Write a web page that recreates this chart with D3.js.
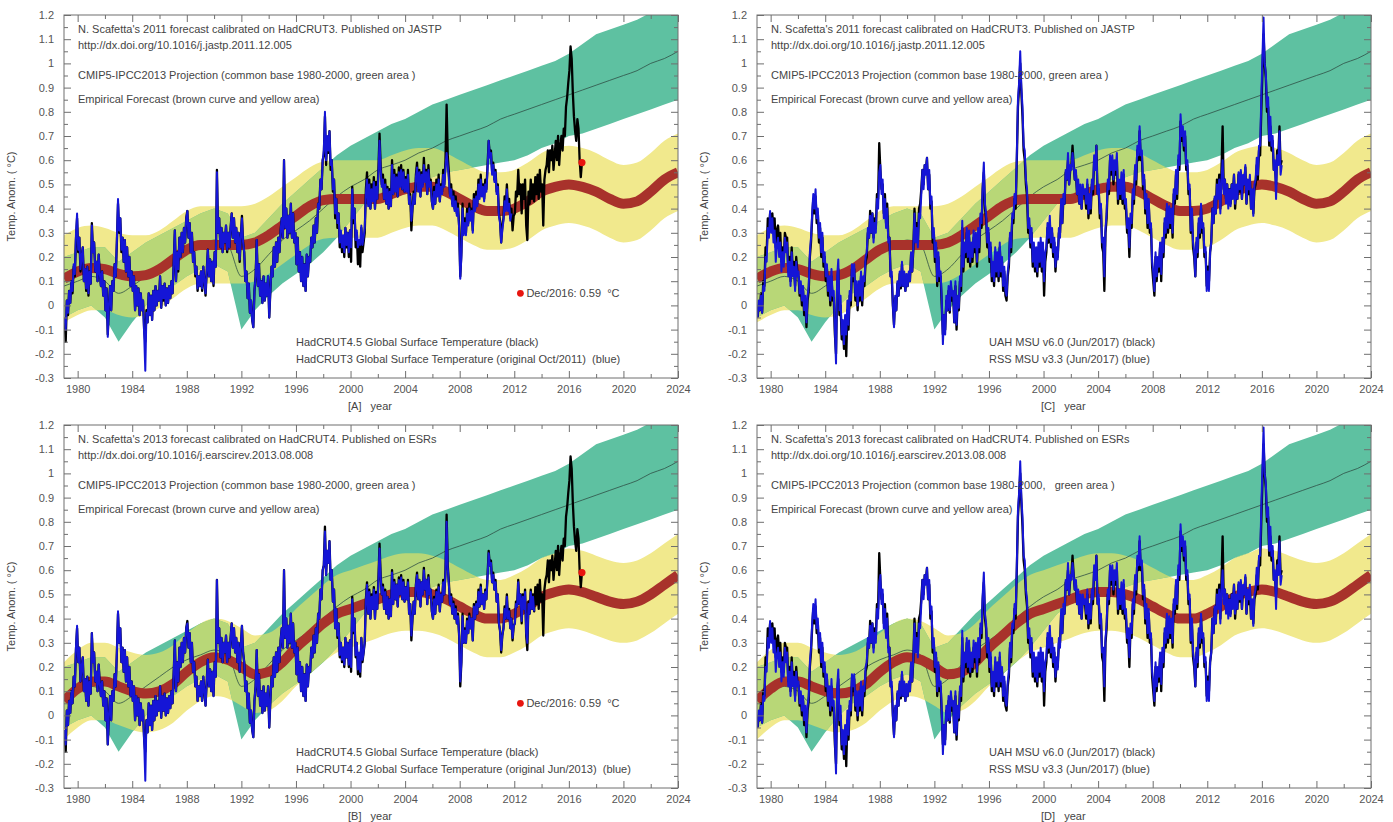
<!DOCTYPE html>
<html>
<head>
<meta charset="utf-8">
<script src="https://cdn.jsdelivr.net/npm/d3@7"></script>
<style>
  body { margin: 0; background: #fff; }
  svg { display: block; }
  text { font-family: "Liberation Sans", Arial, sans-serif; white-space: pre; }
</style>
</head>
<body>
<svg id="chart" width="1393" height="822"></svg>
<script>
// ---------------- data ----------------
// yearly knots of the projection bands
const knotYears = d3.range(1979, 2025);

// CMIP5-IPCC2013 ensemble (common base 1980-2000)
const cmipLow  = [-0.05,-0.02,0.00,-0.05,-0.15,-0.07,0.00,0.05,0.08,0.12, 0.15,0.17,0.14,-0.10,-0.02,0.04,0.09,0.13,0.17,0.22, 0.28,0.35,0.42,0.46,0.48,0.50,0.52,0.53,0.55,0.56, 0.57,0.58,0.59,0.60,0.62,0.65,0.67,0.70,0.71,0.73, 0.75,0.77,0.79,0.81,0.83,0.85];
const cmipMean = [0.08,0.10,0.12,0.10,0.05,0.08,0.12,0.16,0.20,0.23, 0.25,0.27,0.25,0.12,0.15,0.21,0.27,0.31,0.35,0.40, 0.45,0.49,0.52,0.56,0.58,0.60,0.63,0.65,0.68,0.70, 0.72,0.74,0.77,0.79,0.81,0.83,0.85,0.87,0.89,0.91, 0.93,0.95,0.97,1.00,1.02,1.05];
const cmipHigh = [0.20,0.22,0.24,0.24,0.18,0.22,0.26,0.29,0.32,0.35, 0.38,0.40,0.38,0.28,0.30,0.36,0.42,0.47,0.52,0.57, 0.62,0.66,0.69,0.72,0.75,0.77,0.80,0.83,0.85,0.87, 0.89,0.91,0.93,0.95,0.97,0.99,1.01,1.04,1.08,1.12, 1.14,1.16,1.18,1.21,1.23,1.25];

// empirical forecast 2011 (calibrated on HadCRUT3)
const fc2011Mid  = [0.11,0.14,0.155,0.15,0.13,0.12,0.125,0.15,0.19,0.23, 0.25,0.25,0.25,0.25,0.26,0.29,0.33,0.37,0.41,0.435, 0.44,0.44,0.44,0.44,0.46,0.48,0.49,0.49,0.47,0.44, 0.41,0.39,0.39,0.40,0.43,0.47,0.49,0.50,0.49,0.47, 0.44,0.42,0.43,0.47,0.52,0.55];
const fc2011High = [0.29,0.32,0.33,0.32,0.30,0.29,0.29,0.31,0.35,0.39, 0.41,0.41,0.41,0.41,0.42,0.45,0.49,0.53,0.57,0.595, 0.60,0.60,0.60,0.60,0.62,0.64,0.65,0.65,0.63,0.60, 0.57,0.55,0.55,0.56,0.59,0.63,0.65,0.66,0.65,0.63, 0.60,0.58,0.59,0.63,0.68,0.71];
const fc2011Low  = [-0.07,-0.04,-0.02,-0.02,-0.04,-0.05,-0.04,-0.01,0.03,0.07, 0.09,0.09,0.09,0.09,0.10,0.13,0.17,0.21,0.25,0.275, 0.28,0.28,0.28,0.28,0.30,0.32,0.33,0.33,0.31,0.28, 0.25,0.23,0.23,0.24,0.27,0.31,0.33,0.34,0.33,0.31, 0.28,0.26,0.27,0.31,0.36,0.39];

// empirical forecast 2013 (calibrated on HadCRUT4)
const fc2013Mid  = [0.06,0.11,0.14,0.14,0.12,0.10,0.09,0.10,0.13,0.18, 0.22,0.24,0.23,0.20,0.17,0.18,0.22,0.28,0.33,0.38, 0.42,0.44,0.46,0.48,0.50,0.51,0.51,0.50,0.48,0.45, 0.42,0.40,0.40,0.42,0.45,0.49,0.51,0.52,0.51,0.49, 0.47,0.46,0.47,0.50,0.54,0.58];
const fc2013High = [0.22,0.27,0.30,0.30,0.28,0.26,0.25,0.26,0.29,0.34, 0.38,0.40,0.39,0.36,0.33,0.34,0.38,0.44,0.49,0.54, 0.58,0.60,0.62,0.64,0.66,0.67,0.67,0.66,0.64,0.61, 0.58,0.56,0.56,0.58,0.61,0.65,0.67,0.69,0.68,0.66, 0.64,0.63,0.64,0.67,0.71,0.75];
const fc2013Low  = [-0.10,-0.05,-0.02,-0.02,-0.04,-0.06,-0.07,-0.06,-0.03,0.02, 0.06,0.08,0.07,0.04,0.01,0.02,0.06,0.12,0.17,0.22, 0.26,0.28,0.30,0.32,0.34,0.35,0.35,0.34,0.32,0.29, 0.26,0.24,0.24,0.26,0.29,0.33,0.35,0.36,0.35,0.33, 0.31,0.30,0.31,0.34,0.38,0.42];

// monthly anomalies (degC), all starting January 1979
const hadcrut45 = [
 -0.06,-0.15,0.02,-0.04,0.06,0.01,0.10,0.05,0.16,0.12,0.27,0.36,
 0.22,0.28,0.14,0.20,0.24,0.10,0.15,0.06,0.16,0.04,0.14,0.09,
 0.34,0.22,0.26,0.14,0.18,0.10,0.21,0.13,0.08,0.14,0.04,0.10,
 -0.02,0.07,-0.12,0.00,0.08,-0.02,0.10,0.06,0.17,0.12,0.26,0.42,
 0.30,0.36,0.22,0.28,0.18,0.27,0.14,0.24,0.12,0.20,0.08,0.14,
 0.06,0.12,-0.02,0.08,0.00,0.07,-0.04,0.05,-0.02,0.02,-0.10,-0.15,
 -0.02,-0.07,0.05,-0.04,0.04,-0.06,0.06,-0.02,0.08,0.00,0.06,0.02,
 0.12,-0.01,0.08,0.02,0.09,0.00,0.07,0.01,0.08,0.03,0.10,0.05,
 0.18,0.31,0.10,0.22,0.14,0.28,0.20,0.30,0.22,0.32,0.26,0.36,
 0.39,0.28,0.34,0.22,0.30,0.18,0.22,0.12,0.16,0.06,0.12,0.08,
 0.14,0.06,0.16,0.10,0.04,0.14,0.23,0.12,0.19,0.10,0.18,0.08,
 0.22,0.16,0.56,0.30,0.36,0.24,0.32,0.22,0.30,0.26,0.33,0.22,
 0.30,0.24,0.32,0.38,0.28,0.36,0.26,0.32,0.22,0.30,0.18,0.28,
 0.37,0.26,0.22,0.10,0.14,0.03,0.09,-0.03,0.02,-0.06,-0.09,0.06,
 0.12,0.27,0.08,0.17,0.04,0.10,0.01,0.12,0.02,0.09,0.04,0.12,
 -0.05,0.06,0.16,0.12,0.24,0.16,0.26,0.18,0.28,0.22,0.31,0.36,
 0.28,0.60,0.32,0.40,0.28,0.37,0.30,0.42,0.28,0.38,0.26,0.30,
 0.17,0.28,0.14,0.22,0.10,0.20,0.08,0.17,0.06,0.21,0.12,0.20,
 0.18,0.28,0.24,0.33,0.26,0.36,0.30,0.42,0.40,0.52,0.48,0.60,
 0.62,0.78,0.58,0.68,0.63,0.72,0.56,0.60,0.47,0.52,0.36,0.44,
 0.32,0.38,0.24,0.30,0.22,0.28,0.20,0.32,0.24,0.30,0.20,0.31,
 0.18,0.49,0.34,0.40,0.24,0.30,0.17,0.25,0.16,0.32,0.22,0.26,
 0.30,0.48,0.55,0.42,0.52,0.40,0.50,0.44,0.53,0.40,0.51,0.44,
 0.56,0.71,0.58,0.50,0.54,0.44,0.52,0.42,0.49,0.40,0.48,0.41,
 0.60,0.46,0.56,0.48,0.54,0.45,0.57,0.50,0.58,0.48,0.56,0.47,
 0.53,0.48,0.56,0.42,0.46,0.31,0.40,0.47,0.42,0.54,0.59,0.48,
 0.56,0.45,0.55,0.50,0.61,0.52,0.56,0.46,0.58,0.50,0.52,0.43,
 0.40,0.49,0.42,0.52,0.46,0.54,0.43,0.50,0.47,0.56,0.50,0.60,
 0.83,0.62,0.55,0.46,0.50,0.42,0.47,0.40,0.45,0.38,0.42,0.33,
 0.12,0.22,0.42,0.30,0.36,0.30,0.40,0.34,0.42,0.36,0.40,0.31,
 0.46,0.40,0.47,0.42,0.52,0.45,0.54,0.46,0.50,0.44,0.52,0.48,
 0.58,0.68,0.62,0.64,0.55,0.59,0.52,0.56,0.47,0.50,0.38,0.35,
 0.26,0.33,0.36,0.45,0.40,0.50,0.40,0.44,0.36,0.40,0.31,0.37,
 0.38,0.47,0.45,0.56,0.46,0.50,0.38,0.50,0.44,0.52,0.33,0.27,
 0.47,0.42,0.52,0.44,0.50,0.43,0.53,0.46,0.54,0.44,0.56,0.47,
 0.50,0.33,0.52,0.56,0.58,0.64,0.55,0.64,0.60,0.66,0.56,0.62,
 0.68,0.60,0.70,0.58,0.66,0.70,0.64,0.73,0.70,0.82,0.86,0.92,
 0.97,1.07,1.02,0.88,0.78,0.72,0.68,0.77,0.73,0.60,0.53,0.59
];

const hadcrut3 = [
 -0.05,-0.10,0.02,-0.03,0.06,0.01,0.10,0.06,0.17,0.13,0.29,0.38,
 0.23,0.28,0.15,0.20,0.24,0.10,0.15,0.07,0.16,0.05,0.14,0.09,
 0.33,0.22,0.26,0.14,0.18,0.10,0.21,0.13,0.08,0.14,0.04,0.10,
 -0.02,0.07,-0.13,0.00,0.08,-0.02,0.10,0.06,0.17,0.12,0.27,0.44,
 0.31,0.36,0.23,0.28,0.18,0.27,0.14,0.24,0.12,0.20,0.08,0.14,
 0.06,0.12,-0.02,0.08,0.00,0.07,-0.04,0.05,-0.02,0.02,-0.12,-0.27,
 -0.03,-0.07,0.05,-0.04,0.04,-0.06,0.06,-0.02,0.08,0.00,0.06,0.02,
 0.12,-0.01,0.08,0.03,0.09,0.00,0.07,0.01,0.08,0.03,0.10,0.05,
 0.18,0.31,0.10,0.22,0.15,0.28,0.20,0.30,0.22,0.32,0.26,0.36,
 0.39,0.28,0.34,0.22,0.30,0.18,0.22,0.13,0.16,0.07,0.12,0.08,
 0.14,0.07,0.16,0.10,0.05,0.14,0.23,0.12,0.19,0.10,0.18,0.09,
 0.22,0.16,0.55,0.30,0.36,0.24,0.32,0.22,0.30,0.26,0.33,0.23,
 0.30,0.24,0.32,0.38,0.28,0.36,0.26,0.32,0.22,0.30,0.19,0.28,
 0.36,0.26,0.22,0.10,0.14,0.03,0.09,-0.03,0.02,-0.06,-0.09,0.06,
 0.12,0.27,0.08,0.17,0.04,0.10,0.01,0.12,0.02,0.09,0.04,0.12,
 -0.05,0.06,0.16,0.12,0.24,0.16,0.26,0.18,0.28,0.22,0.31,0.36,
 0.28,0.60,0.32,0.40,0.28,0.37,0.30,0.42,0.28,0.38,0.26,0.30,
 0.17,0.28,0.14,0.22,0.10,0.20,0.08,0.17,0.06,0.21,0.12,0.20,
 0.18,0.28,0.24,0.33,0.26,0.36,0.30,0.42,0.40,0.52,0.48,0.60,
 0.64,0.80,0.60,0.70,0.64,0.72,0.58,0.60,0.48,0.52,0.38,0.44,
 0.34,0.38,0.26,0.31,0.24,0.29,0.22,0.32,0.25,0.30,0.22,0.31,
 0.24,0.48,0.36,0.40,0.27,0.31,0.24,0.27,0.25,0.33,0.25,0.28,
 0.32,0.46,0.52,0.41,0.50,0.40,0.48,0.43,0.51,0.40,0.49,0.44,
 0.54,0.68,0.56,0.49,0.52,0.44,0.50,0.42,0.48,0.40,0.47,0.41,
 0.58,0.46,0.54,0.47,0.53,0.45,0.55,0.49,0.56,0.48,0.55,0.47,
 0.52,0.47,0.54,0.42,0.45,0.35,0.40,0.46,0.42,0.53,0.57,0.47,
 0.55,0.45,0.54,0.49,0.58,0.51,0.55,0.46,0.56,0.49,0.51,0.43,
 0.40,0.47,0.42,0.50,0.45,0.52,0.43,0.49,0.46,0.54,0.49,0.57,
 0.63,0.58,0.52,0.45,0.48,0.41,0.45,0.39,0.43,0.37,0.40,0.32,
 0.11,0.20,0.40,0.29,0.34,0.29,0.38,0.33,0.40,0.35,0.39,0.30,
 0.44,0.39,0.45,0.41,0.50,0.44,0.52,0.45,0.49,0.43,0.50,0.47,
 0.56,0.68,0.61,0.63,0.54,0.58,0.51,0.55,0.46,0.49,0.37,0.34,
 0.26,0.31,0.35,0.43,0.39,0.48,0.39,0.42,0.35,0.38
];

const hadcrut42 = [
 -0.06,-0.12,0.02,-0.04,0.06,0.01,0.10,0.05,0.16,0.12,0.28,0.37,
 0.22,0.28,0.14,0.20,0.24,0.10,0.15,0.06,0.16,0.04,0.14,0.09,
 0.34,0.22,0.26,0.14,0.18,0.10,0.21,0.13,0.08,0.14,0.04,0.10,
 -0.02,0.07,-0.12,0.00,0.08,-0.02,0.10,0.06,0.17,0.12,0.26,0.43,
 0.30,0.36,0.22,0.28,0.18,0.27,0.14,0.24,0.12,0.20,0.08,0.14,
 0.06,0.12,-0.02,0.08,0.00,0.07,-0.04,0.05,-0.02,0.02,-0.11,-0.27,
 -0.02,-0.07,0.05,-0.04,0.04,-0.06,0.06,-0.02,0.08,0.00,0.06,0.02,
 0.12,-0.01,0.08,0.02,0.09,0.00,0.07,0.01,0.08,0.03,0.10,0.05,
 0.18,0.31,0.10,0.22,0.14,0.28,0.20,0.30,0.22,0.32,0.26,0.36,
 0.38,0.28,0.34,0.22,0.30,0.18,0.22,0.12,0.16,0.06,0.12,0.08,
 0.14,0.06,0.16,0.10,0.04,0.14,0.23,0.12,0.19,0.10,0.18,0.08,
 0.22,0.16,0.56,0.30,0.36,0.24,0.32,0.22,0.30,0.26,0.33,0.22,
 0.30,0.24,0.32,0.38,0.28,0.36,0.26,0.32,0.22,0.30,0.18,0.28,
 0.37,0.26,0.22,0.10,0.14,0.03,0.09,-0.03,0.02,-0.06,-0.09,0.06,
 0.12,0.27,0.08,0.17,0.04,0.10,0.01,0.12,0.02,0.09,0.04,0.12,
 -0.05,0.06,0.16,0.12,0.24,0.16,0.26,0.18,0.28,0.22,0.31,0.36,
 0.28,0.60,0.32,0.40,0.28,0.37,0.30,0.42,0.28,0.38,0.26,0.30,
 0.17,0.28,0.14,0.22,0.10,0.20,0.08,0.17,0.06,0.21,0.12,0.20,
 0.18,0.28,0.24,0.33,0.26,0.36,0.30,0.42,0.40,0.52,0.48,0.60,
 0.62,0.76,0.58,0.68,0.63,0.72,0.56,0.60,0.47,0.52,0.36,0.44,
 0.33,0.38,0.25,0.30,0.23,0.28,0.21,0.32,0.24,0.30,0.21,0.31,
 0.20,0.48,0.35,0.40,0.25,0.30,0.19,0.26,0.18,0.32,0.23,0.26,
 0.31,0.47,0.54,0.42,0.51,0.40,0.49,0.44,0.52,0.40,0.50,0.44,
 0.55,0.69,0.57,0.50,0.53,0.44,0.51,0.42,0.49,0.40,0.48,0.41,
 0.59,0.46,0.55,0.48,0.54,0.45,0.56,0.50,0.57,0.48,0.55,0.47,
 0.53,0.48,0.55,0.42,0.46,0.33,0.40,0.47,0.42,0.54,0.58,0.48,
 0.56,0.45,0.55,0.50,0.60,0.52,0.56,0.46,0.57,0.50,0.52,0.43,
 0.40,0.48,0.42,0.51,0.46,0.53,0.43,0.50,0.47,0.55,0.50,0.59,
 0.80,0.61,0.54,0.46,0.49,0.42,0.46,0.40,0.44,0.38,0.41,0.33,
 0.14,0.22,0.41,0.30,0.35,0.30,0.39,0.34,0.41,0.36,0.40,0.31,
 0.45,0.40,0.46,0.42,0.51,0.45,0.53,0.46,0.50,0.44,0.51,0.48,
 0.57,0.67,0.62,0.63,0.55,0.58,0.52,0.55,0.47,0.50,0.38,0.35,
 0.27,0.33,0.36,0.44,0.40,0.49,0.40,0.43,0.36,0.40,0.32,0.37,
 0.38,0.46,0.45,0.55,0.46,0.50,0.39,0.49,0.44,0.51,0.34,0.30,
 0.46,0.42,0.51,0.44,0.49,0.43
];

const uah60 = [
 -0.05,0.00,-0.02,0.05,-0.03,0.10,0.08,0.24,0.22,0.36,0.30,0.38,
 0.32,0.38,0.30,0.36,0.24,0.31,0.33,0.26,0.30,0.18,0.24,0.18,
 0.30,0.28,0.28,0.14,0.20,0.10,0.24,0.14,0.18,0.08,0.20,0.14,
 0.12,0.04,0.08,0.00,0.06,-0.04,0.02,-0.09,0.02,0.06,0.20,0.26,
 0.36,0.44,0.38,0.45,0.34,0.38,0.26,0.32,0.20,0.28,0.16,0.20,
 0.10,0.15,0.04,0.10,0.00,0.12,0.02,0.03,-0.12,-0.20,0.08,0.15,
 -0.04,0.00,-0.14,-0.08,-0.18,-0.06,-0.21,-0.02,-0.10,0.04,0.00,0.15,
 0.10,0.15,0.02,0.08,-0.02,0.08,0.02,0.12,0.00,0.10,0.08,0.18,
 0.20,0.30,0.28,0.39,0.30,0.38,0.28,0.36,0.32,0.46,0.44,0.67,
 0.56,0.48,0.50,0.38,0.46,0.34,0.42,0.28,0.28,0.12,0.12,0.00,
 -0.08,0.03,-0.02,0.09,0.04,0.13,0.07,0.17,0.08,0.13,0.06,0.12,
 0.08,0.13,0.10,0.21,0.14,0.23,0.40,0.28,0.34,0.26,0.40,0.42,
 0.48,0.56,0.50,0.58,0.56,0.61,0.48,0.54,0.40,0.43,0.26,0.30,
 0.18,0.24,0.08,0.20,0.10,0.12,0.00,-0.12,-0.04,-0.10,0.02,-0.02,
 0.06,-0.03,0.08,0.02,0.04,-0.07,0.08,-0.10,0.02,-0.02,0.10,0.06,
 0.32,0.14,0.24,0.20,0.30,0.18,0.28,0.16,0.24,0.18,0.28,0.22,
 0.28,0.16,0.30,0.22,0.36,0.32,0.48,0.55,0.40,0.36,0.24,0.30,
 0.18,0.24,0.10,0.16,0.08,0.22,0.12,0.20,0.10,0.24,0.12,0.18,
 0.06,0.14,0.04,0.02,0.12,0.16,0.28,0.22,0.36,0.34,0.44,0.40,
 0.60,0.82,0.90,1.00,0.88,0.78,0.64,0.60,0.50,0.45,0.30,0.33,
 0.24,0.30,0.16,0.24,0.14,0.22,0.12,0.24,0.16,0.26,0.14,0.22,
 0.04,0.18,0.22,0.32,0.26,0.34,0.24,0.30,0.20,0.26,0.14,0.22,
 0.20,0.30,0.30,0.42,0.34,0.44,0.42,0.55,0.52,0.60,0.50,0.56,
 0.58,0.66,0.58,0.52,0.54,0.46,0.50,0.42,0.48,0.40,0.48,0.46,
 0.46,0.40,0.50,0.36,0.44,0.38,0.50,0.46,0.60,0.56,0.66,0.46,
 0.48,0.36,0.40,0.24,0.22,0.06,0.30,0.36,0.50,0.46,0.60,0.54,
 0.60,0.50,0.58,0.54,0.60,0.42,0.50,0.44,0.52,0.42,0.54,0.40,
 0.40,0.30,0.32,0.20,0.36,0.32,0.46,0.42,0.56,0.50,0.64,0.60,
 0.72,0.60,0.62,0.48,0.52,0.38,0.44,0.32,0.42,0.30,0.32,0.16,
 0.10,0.04,0.20,0.10,0.18,0.14,0.24,0.10,0.26,0.20,0.34,0.28,
 0.40,0.30,0.40,0.32,0.38,0.28,0.46,0.42,0.54,0.44,0.60,0.56,
 0.76,0.68,0.72,0.64,0.70,0.56,0.58,0.46,0.48,0.30,0.38,0.24,
 0.20,0.12,0.26,0.20,0.34,0.28,0.40,0.30,0.32,0.20,0.22,0.08,
 0.16,0.10,0.22,0.26,0.40,0.34,0.44,0.38,0.52,0.46,0.54,0.40,
 0.56,0.74,0.48,0.52,0.44,0.50,0.42,0.48,0.42,0.50,0.46,0.54,
 0.40,0.48,0.44,0.54,0.47,0.55,0.44,0.53,0.50,0.57,0.42,0.50,
 0.46,0.52,0.40,0.46,0.38,0.48,0.50,0.58,0.52,0.64,0.62,0.80,
 0.96,1.12,1.00,0.94,0.80,0.82,0.66,0.74,0.64,0.68,0.56,0.58,
 0.50,0.64,0.62,0.74,0.58,0.60
];

const rss33 = [
 -0.05,0.02,-0.02,0.04,-0.03,0.08,0.06,0.20,0.18,0.32,0.28,0.39,
 0.30,0.36,0.26,0.31,0.18,0.25,0.28,0.20,0.26,0.14,0.22,0.16,
 0.28,0.22,0.26,0.12,0.18,0.08,0.22,0.12,0.16,0.06,0.18,0.12,
 0.14,0.05,0.10,0.02,0.08,-0.02,0.04,-0.07,0.04,0.08,0.22,0.28,
 0.38,0.46,0.40,0.48,0.36,0.40,0.28,0.34,0.22,0.30,0.18,0.22,
 0.12,0.17,0.06,0.12,0.02,0.15,0.04,0.06,-0.10,-0.24,0.12,0.19,
 -0.02,0.04,-0.12,-0.06,-0.16,-0.04,-0.12,0.02,-0.08,0.06,0.02,0.17,
 0.12,0.17,0.04,0.10,0.00,0.10,0.04,0.14,0.02,0.12,0.10,0.20,
 0.22,0.32,0.28,0.37,0.30,0.38,0.26,0.34,0.30,0.44,0.40,0.55,
 0.58,0.46,0.52,0.36,0.44,0.32,0.40,0.26,0.28,0.12,0.14,0.00,
 -0.09,0.04,-0.02,0.10,0.04,0.14,0.08,0.18,0.08,0.14,0.06,0.13,
 0.08,0.14,0.10,0.22,0.14,0.24,0.38,0.26,0.32,0.24,0.38,0.36,
 0.46,0.56,0.48,0.58,0.54,0.61,0.48,0.56,0.42,0.45,0.28,0.32,
 0.20,0.26,0.10,0.22,0.12,0.14,0.02,-0.16,-0.04,-0.12,0.04,-0.02,
 0.08,-0.02,0.10,0.04,0.06,-0.07,0.10,-0.08,0.04,-0.01,0.12,0.08,
 0.35,0.16,0.26,0.22,0.32,0.20,0.31,0.18,0.26,0.20,0.31,0.24,
 0.30,0.18,0.32,0.24,0.38,0.34,0.50,0.59,0.42,0.38,0.26,0.32,
 0.20,0.26,0.12,0.18,0.10,0.24,0.14,0.22,0.12,0.26,0.14,0.20,
 0.08,0.16,0.06,0.04,0.14,0.18,0.30,0.24,0.38,0.36,0.46,0.42,
 0.62,0.85,0.92,1.05,0.90,0.82,0.66,0.64,0.52,0.48,0.32,0.36,
 0.26,0.32,0.18,0.26,0.16,0.24,0.14,0.26,0.18,0.28,0.16,0.26,
 0.10,0.22,0.24,0.34,0.28,0.37,0.26,0.32,0.22,0.28,0.16,0.24,
 0.19,0.32,0.28,0.44,0.34,0.46,0.42,0.56,0.52,0.63,0.50,0.58,
 0.56,0.63,0.58,0.52,0.56,0.46,0.52,0.42,0.50,0.40,0.50,0.46,
 0.48,0.42,0.52,0.38,0.46,0.40,0.52,0.48,0.62,0.56,0.66,0.46,
 0.50,0.38,0.42,0.26,0.28,0.12,0.32,0.38,0.52,0.48,0.62,0.56,
 0.62,0.52,0.60,0.56,0.63,0.44,0.52,0.46,0.55,0.44,0.56,0.42,
 0.44,0.32,0.36,0.24,0.38,0.34,0.48,0.44,0.58,0.52,0.66,0.62,
 0.74,0.62,0.64,0.50,0.54,0.40,0.46,0.34,0.44,0.32,0.34,0.18,
 0.14,0.06,0.22,0.12,0.20,0.16,0.26,0.13,0.28,0.22,0.36,0.30,
 0.42,0.32,0.41,0.34,0.40,0.30,0.48,0.44,0.56,0.46,0.62,0.58,
 0.79,0.70,0.74,0.66,0.72,0.58,0.60,0.48,0.50,0.31,0.40,0.26,
 0.22,0.12,0.28,0.22,0.36,0.30,0.42,0.32,0.34,0.22,0.24,0.06,
 0.14,0.06,0.22,0.26,0.40,0.34,0.45,0.38,0.50,0.44,0.52,0.38,
 0.52,0.60,0.46,0.52,0.42,0.50,0.40,0.48,0.41,0.50,0.44,0.54,
 0.42,0.50,0.44,0.55,0.48,0.56,0.44,0.54,0.50,0.58,0.42,0.52,
 0.48,0.54,0.40,0.48,0.37,0.50,0.52,0.61,0.54,0.66,0.66,0.85,
 1.02,1.19,1.00,0.96,0.82,0.86,0.68,0.78,0.66,0.70,0.56,0.60,
 0.44,0.62,0.58,0.72,0.54,0.58
];

// latest HadCRUT4.5 value marked in the surface panels
const decMarker = { year: 2016.96, value: 0.59, label: "Dec/2016: 0.59  \u00B0C", legendYear: 2012.45, legendValue: 0.05 };

// axis ticks
const xMajorTicks = [1980,1984,1988,1992,1996,2000,2004,2008,2012,2016,2020,2024];
const xMinorTicks = [1982,1986,1990,1994,1998,2002,2006,2010,2014,2018,2022];
const yMajorTicks = [-0.3,-0.2,-0.1,0,0.1,0.2,0.3,0.4,0.5,0.6,0.7,0.8,0.9,1.0,1.1,1.2];
const yMinorTicks = [-0.25,-0.15,-0.05,0.05,0.15,0.25,0.35,0.45,0.55,0.65,0.75,0.85,0.95,1.05,1.15];

// ---------------- layout ----------------
const W = 614, H = 363;
const svg = d3.select("#chart");
const textColor = "#444";
const axisColor = "#6f6f6f";

const cmipNote1 = "CMIP5-IPCC2013 Projection (common base 1980-2000, green area )";
const cmipNote2 = "CMIP5-IPCC2013 Projection (common base 1980-2000,   green area )";
const empNote = "Empirical Forecast (brown curve and yellow area)";

const panels = [
  { tag: "A", left: 64, top: 15,
    title: "N. Scafetta's 2011 forecast calibrated on HadCRUT3. Published on JASTP",
    doi: "http://dx.doi.org/10.1016/j.jastp.2011.12.005", cmip: cmipNote1,
    mid: fc2011Mid, hi: fc2011High, lo: fc2011Low,
    black: hadcrut45, blue: hadcrut3,
    blackLabel: "HadCRUT4.5 Global Surface Temperature (black)",
    blueLabel: "HadCRUT3 Global Surface Temperature (original Oct/2011)  (blue)",
    marker: true },
  { tag: "C", left: 757, top: 15,
    title: "N. Scafetta's 2011 forecast calibrated on HadCRUT3. Published on JASTP",
    doi: "http://dx.doi.org/10.1016/j.jastp.2011.12.005", cmip: cmipNote1,
    mid: fc2011Mid, hi: fc2011High, lo: fc2011Low,
    black: uah60, blue: rss33,
    blackLabel: "UAH MSU v6.0 (Jun/2017) (black)",
    blueLabel: "RSS MSU v3.3 (Jun/2017) (blue)",
    marker: false },
  { tag: "B", left: 64, top: 425,
    title: "N. Scafetta's 2013 forecast calibrated on HadCRUT4. Published on ESRs",
    doi: "http://dx.doi.org/10.1016/j.earscirev.2013.08.008", cmip: cmipNote1,
    mid: fc2013Mid, hi: fc2013High, lo: fc2013Low,
    black: hadcrut45, blue: hadcrut42,
    blackLabel: "HadCRUT4.5 Global Surface Temperature (black)",
    blueLabel: "HadCRUT4.2 Global Surface Temperature (original Jun/2013)  (blue)",
    marker: true },
  { tag: "D", left: 757, top: 425,
    title: "N. Scafetta's 2013 forecast calibrated on HadCRUT4. Published on ESRs",
    doi: "http://dx.doi.org/10.1016/j.earscirev.2013.08.008", cmip: cmipNote2,
    mid: fc2013Mid, hi: fc2013High, lo: fc2013Low,
    black: uah60, blue: rss33,
    blackLabel: "UAH MSU v6.0 (Jun/2017) (black)",
    blueLabel: "RSS MSU v3.3 (Jun/2017) (blue)",
    marker: false }
];

const monthly = arr => arr.map((v, i) => [1979 + (i + 0.5) / 12, v]);

function drawPanel(p) {
  const g = svg.append("g").attr("transform", `translate(${p.left},${p.top})`);
  const x = d3.scaleLinear().domain([1979, 2024]).range([0, W]);
  const y = d3.scaleLinear().domain([-0.3, 1.2]).range([H, 0]);

  const defs = g.append("defs");
  defs.append("clipPath").attr("id", "plot-" + p.tag)
    .append("rect").attr("width", W).attr("height", H);

  const cmip = knotYears.map((yr, i) => ({ yr, lo: cmipLow[i], mean: cmipMean[i], hi: cmipHigh[i] }));
  const emp = knotYears.map((yr, i) => ({ yr, lo: p.lo[i], mid: p.mid[i], hi: p.hi[i] }));

  const cmipArea = d3.area().x(d => x(d.yr)).y0(d => y(d.lo)).y1(d => y(d.hi)).curve(d3.curveLinear);
  const empArea = d3.area().x(d => x(d.yr)).y0(d => y(d.lo)).y1(d => y(d.hi)).curve(d3.curveMonotoneX);

  defs.append("clipPath").attr("id", "cmip-" + p.tag)
    .append("path").attr("d", cmipArea(cmip));

  const plot = g.append("g").attr("clip-path", `url(#plot-${p.tag})`);

  plot.append("path").attr("d", empArea(emp)).attr("fill", "#f1e98d");
  plot.append("path").attr("d", cmipArea(cmip)).attr("fill", "#5ec1a1");
  // where both ranges overlap
  plot.append("g").attr("clip-path", `url(#cmip-${p.tag})`)
    .append("path").attr("d", empArea(emp)).attr("fill", "#b8d777");

  plot.append("path")
    .attr("d", d3.line().x(d => x(d.yr)).y(d => y(d.mean)).curve(d3.curveMonotoneX)(cmip))
    .attr("fill", "none").attr("stroke", "#2f4f45").attr("stroke-width", 0.8);

  plot.append("path")
    .attr("d", d3.line().x(d => x(d.yr)).y(d => y(d.mid)).curve(d3.curveMonotoneX)(emp))
    .attr("fill", "none").attr("stroke", "#a8322b").attr("stroke-width", 10);

  const line = d3.line().x(d => x(d[0])).y(d => y(d[1]));
  plot.append("path").attr("d", line(monthly(p.black)))
    .attr("fill", "none").attr("stroke", "#000").attr("stroke-width", 2.3).attr("stroke-linejoin", "round");
  plot.append("path").attr("d", line(monthly(p.blue)))
    .attr("fill", "none").attr("stroke", "#1515d6").attr("stroke-width", 2.0).attr("stroke-linejoin", "round");

  if (p.marker) {
    g.append("circle").attr("cx", x(decMarker.year)).attr("cy", y(decMarker.value))
      .attr("r", 3.6).attr("fill", "#e8150f");
    g.append("circle").attr("cx", x(decMarker.legendYear)).attr("cy", y(decMarker.legendValue))
      .attr("r", 3.4).attr("fill", "#e8150f");
    g.append("text").attr("x", x(decMarker.legendYear) + 6).attr("y", y(decMarker.legendValue) + 4)
      .attr("font-size", 11).attr("fill", textColor).text(decMarker.label);
  }

  // axes with inward ticks on all four sides
  const styleAxis = sel => {
    sel.select(".domain").remove();
    sel.selectAll(".tick line").attr("stroke", axisColor);
    sel.selectAll(".tick text").attr("fill", "#555").attr("font-size", 11)
      .attr("font-family", "Liberation Sans, Arial, sans-serif");
  };
  g.append("g").attr("transform", `translate(0,${H})`)
    .call(d3.axisBottom(x).tickValues(xMajorTicks).tickFormat(d3.format("d")).tickSize(-7).tickPadding(7)).call(styleAxis);
  g.append("g").attr("transform", `translate(0,${H})`)
    .call(d3.axisBottom(x).tickValues(xMinorTicks).tickFormat("").tickSize(-4)).call(styleAxis);
  g.append("g")
    .call(d3.axisTop(x).tickValues(xMajorTicks).tickFormat("").tickSize(-7)).call(styleAxis);
  g.append("g")
    .call(d3.axisTop(x).tickValues(xMinorTicks).tickFormat("").tickSize(-4)).call(styleAxis);
  g.append("g")
    .call(d3.axisLeft(y).tickValues(yMajorTicks).tickFormat(d => String(+d.toFixed(1))).tickSize(-7).tickPadding(10)).call(styleAxis);
  g.append("g")
    .call(d3.axisLeft(y).tickValues(yMinorTicks).tickFormat("").tickSize(-4)).call(styleAxis);
  g.append("g").attr("transform", `translate(${W},0)`)
    .call(d3.axisRight(y).tickValues(yMajorTicks).tickFormat("").tickSize(-7)).call(styleAxis);
  g.append("g").attr("transform", `translate(${W},0)`)
    .call(d3.axisRight(y).tickValues(yMinorTicks).tickFormat("").tickSize(-4)).call(styleAxis);

  g.append("rect").attr("width", W).attr("height", H)
    .attr("fill", "none").attr("stroke", axisColor).attr("stroke-width", 1);

  // notes inside the plot
  const note = (tx, ty, s) => g.append("text").attr("x", tx).attr("y", ty)
    .attr("font-size", 11).attr("fill", textColor).text(s);
  note(14, 18, p.title);
  note(14, 34, p.doi);
  note(14, 64, p.cmip);
  note(14, 88, empNote);
  note(232, 331, p.blackLabel);
  note(232, 348, p.blueLabel);

  g.append("text").attr("x", 284).attr("y", 395).attr("font-size", 11).attr("fill", textColor)
    .text(`[${p.tag}]   year`);
  g.append("text").attr("transform", `translate(${-49},${H / 2}) rotate(-90)`)
    .attr("text-anchor", "middle").attr("font-size", 11).attr("fill", textColor)
    .text("Temp. Anom. ( \u00B0C)");
}

panels.forEach(drawPanel);
</script>
</body>
</html>
